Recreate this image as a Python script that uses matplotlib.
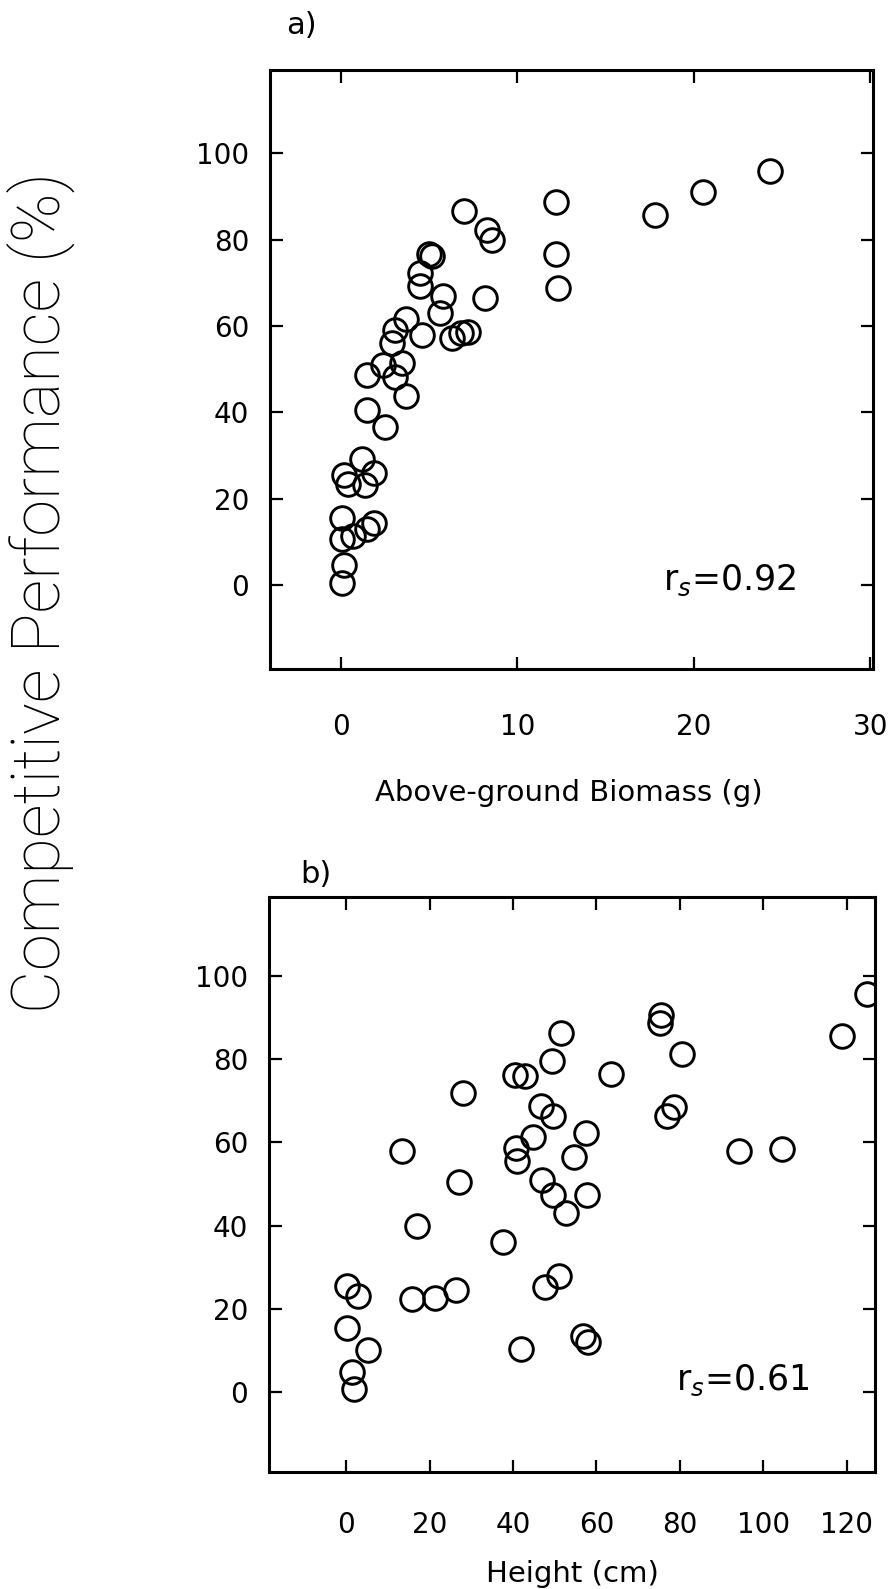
import matplotlib
matplotlib.use("Agg")
import matplotlib.pyplot as plt

# a) above-ground biomass (g) vs competitive performance (%)
biomass = [24.3, 20.5, 17.8, 12.2, 12.2, 12.3, 7.0, 8.3, 8.6, 8.2,
           5.0, 5.2, 4.5, 4.5, 5.8, 5.6, 3.7, 3.1, 4.6, 6.3,
           6.8, 7.2, 2.9, 2.4, 3.5, 1.5, 3.1, 3.7, 1.5, 2.5,
           1.2, 0.2, 0.4, 1.9, 1.4, 0.1, 1.9, 1.5, 0.7, 0.1,
           0.2, 0.1]
perf_a = [96.0, 91.0, 85.7, 88.8, 76.7, 68.9, 86.6, 82.2, 79.9, 66.5,
          76.6, 76.3, 72.3, 69.3, 66.9, 63.0, 61.7, 59.2, 58.0, 57.2,
          58.5, 58.7, 56.1, 51.0, 51.5, 48.6, 48.1, 43.7, 40.5, 36.7,
          29.2, 25.6, 23.4, 26.1, 23.1, 15.6, 14.4, 13.0, 11.3, 10.6,
          4.7, 0.4]

# b) height (cm) vs competitive performance (%)
height = [124.8, 118.8, 75.5, 75.3, 80.5, 78.5, 77.0, 94.1, 104.4, 63.6,
          51.5, 49.4, 40.5, 43.0, 28.1, 46.7, 49.7, 44.7, 57.4, 13.4,
          40.8, 41.0, 54.7, 27.0, 46.9, 49.7, 57.7, 52.7, 16.9, 37.6,
          51.0, 47.7, 0.3, 2.8, 15.7, 21.4, 26.3, 0.3, 5.2, 42.0,
          56.7, 58.0, 1.5, 2.0]
perf_b = [95.6, 85.4, 90.5, 88.6, 81.1, 68.4, 66.3, 57.9, 58.4, 76.3,
          86.2, 79.6, 76.2, 75.9, 71.9, 68.6, 66.3, 61.3, 62.3, 57.9,
          58.6, 55.6, 56.4, 50.4, 51.0, 47.4, 47.4, 42.9, 39.9, 36.0,
          27.9, 25.3, 25.4, 23.0, 22.3, 22.7, 24.4, 15.4, 10.1, 10.4,
          13.4, 12.1, 4.7, 0.7]

y_ticks = [0, 20, 40, 60, 80, 100]
xticks_a = [0, 10, 20, 30]
xticks_b = [0, 20, 40, 60, 80, 100, 120]

W, H = 893, 1589
fig = plt.figure(figsize=(W / 100, H / 100), dpi=100)

def make_axes(left, top, right, bottom):
    return fig.add_axes([left / W, 1 - bottom / H, (right - left) / W, (bottom - top) / H])

ax1 = make_axes(270, 70, 873, 669)
ax2 = make_axes(269, 897, 875, 1472)

def style(ax, xticks, xlim, ylim, xpad):
    ax.set_xlim(*xlim)
    ax.set_ylim(*ylim)
    ax.set_xticks(xticks)
    ax.set_yticks(y_ticks)
    ax.tick_params(direction="in", top=True, right=True, length=9, width=1.6,
                   labelsize=20)
    ax.tick_params(axis="x", pad=xpad)
    ax.tick_params(axis="y", pad=15)
    for sp in ax.spines.values():
        sp.set_linewidth(2.2)

style(ax1, xticks_a, (-4.0, 30.15), (-19.4, 119.3), 32)
style(ax2, xticks_b, (-18.5, 126.8), (-19.2, 118.9), 28)

ax1.plot(biomass, perf_a, "o", mfc="none", mec="black", ms=17, mew=2.1)
ax2.plot(height, perf_b, "o", mfc="none", mec="black", ms=17, mew=2.1)

ax1.text(22.0, -1.0, "r$_s$=0.92", fontsize=25, ha="center", va="baseline")
ax2.text(95.0, 0.4, "r$_s$=0.61", fontsize=25, ha="center", va="baseline")

ax1.set_xlabel("Above-ground Biomass (g)", fontsize=21)
ax1.xaxis.set_label_coords(0.496, -0.207)
ax1.xaxis.label.set_va("center")
ax2.set_xlabel("Height (cm)", fontsize=21)
ax2.xaxis.set_label_coords(0.5, -0.178)
ax2.xaxis.label.set_va("center")

fig.text(301 / W, 1 - 26 / H, "a)", fontsize=22, ha="center", va="center")
fig.text(316 / W, 1 - 874 / H, "b)", fontsize=22, ha="center", va="center")

fig.text(41 / W, 1 - 593 / H, "Competitive Performance (%)", rotation=90,
         fontsize=48, family="Roboto", weight="light", ha="center", va="center")

fig.savefig("out.png", dpi=100)
